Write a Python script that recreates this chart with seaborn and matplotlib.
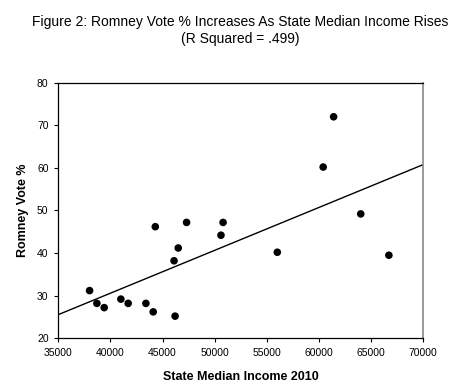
import numpy as np
import pandas as pd
import matplotlib
matplotlib.use("Agg")
import matplotlib.pyplot as plt
import seaborn as sns

# state median income 2010 vs Romney vote share
income = [38000, 38700, 39400, 41000, 41700, 43400, 44100, 44300, 46200, 46100,
          46500, 47300, 50600, 50800, 56000, 60400, 61400, 64000, 66700]
romney = [31.2, 28.2, 27.2, 29.2, 28.2, 28.2, 26.2, 46.2, 25.2, 38.2,
          41.2, 47.2, 44.2, 47.2, 40.2, 60.2, 72.0, 49.2, 39.5]
xticks = [35000, 40000, 45000, 50000, 55000, 60000, 65000, 70000]
yticks = [20, 30, 40, 50, 60, 70, 80]

df = pd.DataFrame({"income": income, "romney": romney})

sns.set_style("white")
plt.rcParams["font.family"] = ["Liberation Sans", "DejaVu Sans"]
plt.rcParams["text.color"] = "black"
plt.rcParams["axes.labelcolor"] = "black"

fig = plt.figure(figsize=(4.75, 3.87), dpi=100)
ax = fig.add_axes([58.3 / 475, 1 - 338.3 / 387, (423.3 - 58.3) / 475, (338.3 - 82.7) / 387])
# limits first so the fit line spans the whole axis
ax.set_xlim(35000, 70000)
ax.set_ylim(20, 80)

sns.regplot(data=df, x="income", y="romney", ax=ax, ci=None, truncate=False,
            scatter_kws=dict(s=30, color="black", edgecolor="none", alpha=1),
            line_kws=dict(color="black", lw=1))
ax.set_xlim(35000, 70000)
ax.set_ylim(20, 80)

ax.set_xticks(xticks)
ax.set_yticks(yticks)
ax.tick_params(axis="both", direction="out", length=3, width=0.8, labelsize=7.5,
               colors="black", bottom=True, left=True, pad=4)
for s in ["left", "bottom", "top"]:
    ax.spines[s].set_color("black")
    ax.spines[s].set_linewidth(0.9)
ax.spines["right"].set_color("#888888")
ax.spines["right"].set_linewidth(1.2)

ax.set_xlabel("State Median Income 2010", fontsize=9, fontweight="bold", labelpad=9)
ax.set_ylabel("Romney Vote %", fontsize=9, fontweight="bold", labelpad=6)

fig.text(0.505, 0.943, "Figure 2: Romney Vote % Increases As State Median Income Rises",
         ha="center", va="center", fontsize=10)
fig.text(0.505, 0.899, "(R Squared = .499)", ha="center", va="center", fontsize=10)

fig.savefig("out.png", dpi=100)
